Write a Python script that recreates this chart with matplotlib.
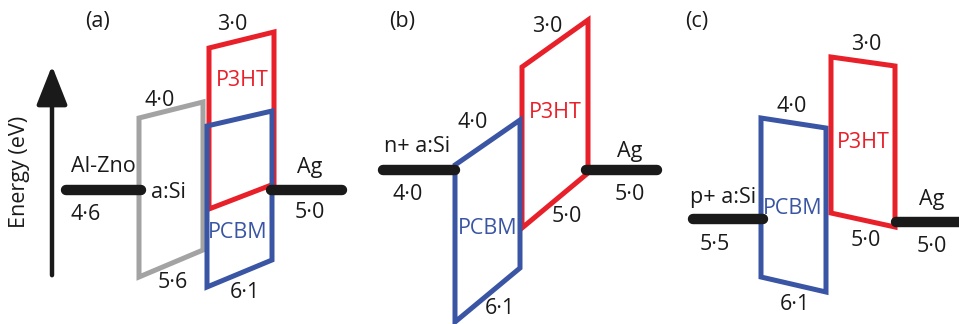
import matplotlib.pyplot as plt
from matplotlib.patches import Polygon

plt.rcParams['font.family'] = ['Open Sans', 'DejaVu Sans']

RED = '#e8202a'
BLUE = '#3a55a4'
GRAY = '#a3a3a3'
BLACK = '#1a1a1a'

# panel titles
panels = ['(a)', '(b)', '(c)']

# energy levels (eV) shown on the diagram
contacts_left = ['Al-Zno', 'n+ a:Si', 'p+ a:Si']
contacts_left_e = ['4·6', '4·0', '5·5']
contacts_right = ['Ag', 'Ag', 'Ag']
contacts_right_e = ['5·0', '5·0', '5·0']
asi_levels = ['4·0', '5·6']
pcbm_levels = ['4·0', '6·1']
p3ht_levels = ['3·0', '5·0']

# layout in pixels (x, y from top-left)
W, H = 959, 324
title_xy = [(97, 22), (402, 22), (697, 22)]
left_bar = [(66, 141, 190), (383, 455, 170), (693, 763, 219)]
right_bar = [(271, 342, 190), (586, 657, 170), (896, 975, 222)]
left_lbl = [(103, 167), (417, 147), (723, 198)]
left_e_lbl = [(86, 215), (408, 195), (715, 245)]
right_lbl = [(310, 168), (630, 151), (932, 199)]
right_e_lbl = [(310, 213), (630, 195), (932, 247)]

# parallelograms: x_left, x_right, y_top_left, y_top_right, y_bot_left, y_bot_right
asi_box = (139, 203, 118, 102, 277, 250)
p3ht_box = [(209, 274, 48, 32, 209, 184), (522, 588, 67, 20, 228, 173), (831, 895, 57, 66, 213, 227)]
pcbm_box = [(207, 272, 126, 111, 287, 260), (455, 520, 165, 120, 322, 268), (761, 826, 118, 128, 277, 292)]

asi_txt = [(160, 100), (173, 282), (168, 192)]
p3ht_txt = [[(232, 24), None, (242, 81)],
            [(547, 27), (567, 216), (555, 113)],
            [(866, 44), (866, 241), (863, 142)]]
pcbm_txt = [[None, (245, 293), (238, 232)],
            [(473, 122), (500, 309), (488, 228)],
            [(792, 106), (795, 305), (793, 209)]]

FS = 15.5


def box(ax, b, color, lw=3.6):
    xl, xr, ytl, ytr, ybl, ybr = b
    ax.add_patch(Polygon([(xl, ytl), (xr, ytr), (xr, ybr), (xl, ybl)], closed=True,
                         fill=False, edgecolor=color, lw=lw, joinstyle='miter'))


def txt(ax, xy, s, color=BLACK, **kw):
    if xy is None:
        return
    ax.text(xy[0], xy[1], s, color=color, fontsize=FS, ha='center', va='center', **kw)


fig = plt.figure(figsize=(W / 100, H / 100), dpi=100)
ax = fig.add_axes([0, 0, 1, 1])
ax.set_xlim(0, W)
ax.set_ylim(H, 0)
ax.axis('off')

# energy arrow
ax.annotate('', xy=(52, 63), xytext=(52, 278),
            arrowprops=dict(arrowstyle='-|>,head_length=2.4,head_width=0.95', color=BLACK, lw=3.2))
ax.text(20, 172, 'Energy (eV)', rotation=90, fontsize=FS, ha='center', va='center', color=BLACK)

# panel (a) a:Si
box(ax, asi_box, GRAY)
txt(ax, asi_txt[0], asi_levels[0])
txt(ax, asi_txt[1], asi_levels[1])
txt(ax, asi_txt[2], 'a:Si')

for i in range(3):
    txt(ax, title_xy[i], panels[i])
    x0, x1, y = left_bar[i]
    ax.plot([x0, x1], [y, y], color=BLACK, lw=7.5, solid_capstyle='round')
    x0, x1, y = right_bar[i]
    ax.plot([x0, x1], [y, y], color=BLACK, lw=7.5, solid_capstyle='round')
    txt(ax, left_lbl[i], contacts_left[i])
    txt(ax, left_e_lbl[i], contacts_left_e[i])
    txt(ax, right_lbl[i], contacts_right[i])
    txt(ax, right_e_lbl[i], contacts_right_e[i])

    box(ax, p3ht_box[i], RED)
    box(ax, pcbm_box[i], BLUE)
    txt(ax, p3ht_txt[i][0], p3ht_levels[0])
    txt(ax, p3ht_txt[i][1], p3ht_levels[1])
    txt(ax, p3ht_txt[i][2], 'P3HT', color=RED)
    txt(ax, pcbm_txt[i][0], pcbm_levels[0])
    txt(ax, pcbm_txt[i][1], pcbm_levels[1])
    txt(ax, pcbm_txt[i][2], 'PCBM', color=BLUE)

fig.savefig('out.png', dpi=100)
